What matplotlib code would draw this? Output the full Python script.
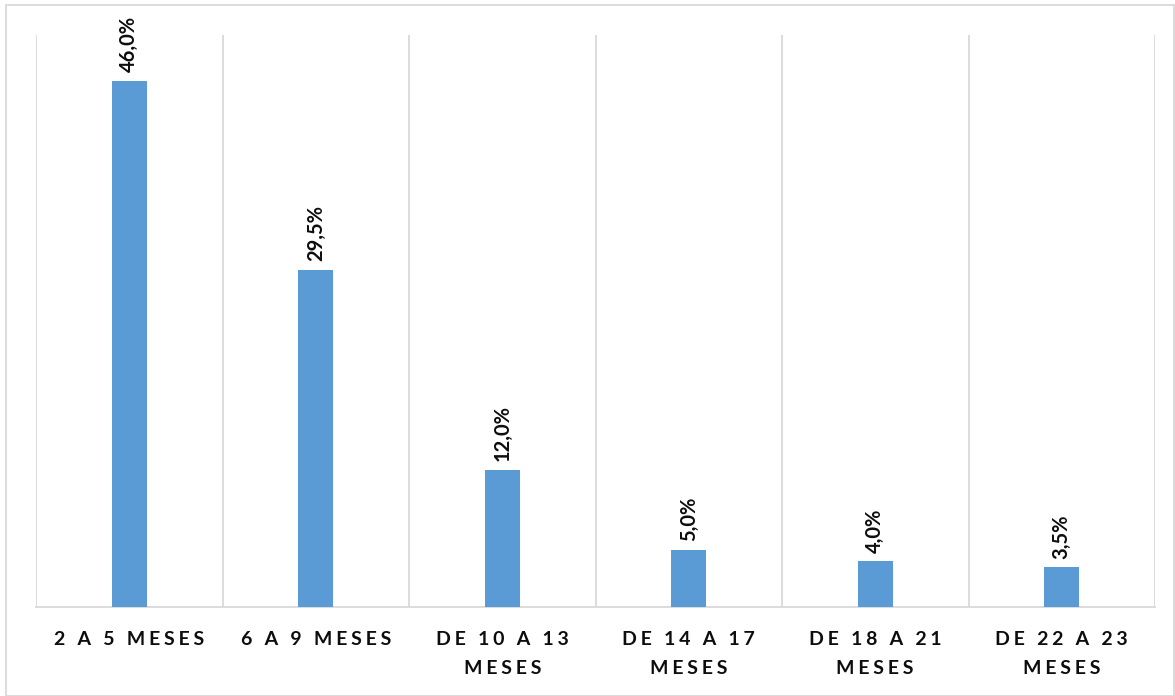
import matplotlib.pyplot as plt
from matplotlib.patches import Rectangle

categorias = ['2 A 5 MESES', '6 A 9 MESES', 'DE 10 A 13\nMESES',
              'DE 14 A 17\nMESES', 'DE 18 A 21\nMESES', 'DE 22 A 23\nMESES']
valores = [46.0, 29.5, 12.0, 5.0, 4.0, 3.5]
etiquetas = ['46,0%', '29,5%', '12,0%', '5,0%', '4,0%', '3,5%']

plt.rcParams['font.family'] = ['Lato', 'DejaVu Sans']


def espaciar(texto):
    # espaciado entre letras, como en el original
    return '\n'.join('\u2009\u200a'.join(linea) for linea in texto.split('\n'))


fig = plt.figure(figsize=(11.75, 6.96), dpi=100)
ax = fig.add_axes([36 / 1175, 1 - 607 / 696, (1155 - 36) / 1175, (607 - 35) / 696])

x = range(len(valores))
ax.bar(x, valores, width=0.19, color='#5b9bd5', zorder=3)

for i, (v, t) in enumerate(zip(valores, etiquetas)):
    ax.annotate(t, (i, v), xytext=(0, 6), textcoords='offset points',
                rotation=90, ha='center', va='bottom', fontsize=14.5,
                fontweight='bold', color='#0d0d0d')

ax.set_xlim(-0.5, len(valores) - 0.5)
ax.set_ylim(0, 50)
ax.set_yticks([])
ax.set_xticks(list(x))
ax.set_xticklabels([espaciar(c) for c in categorias], fontsize=14,
                   fontweight='bold', color='#0d0d0d', linespacing=1.9)
ax.tick_params(axis='x', length=0, pad=17)

for b in [i - 0.5 for i in range(len(valores) + 1)]:
    ax.axvline(b, color='#d9d9d9', lw=1.3, zorder=1)

for s in ['top', 'right', 'left']:
    ax.spines[s].set_visible(False)
ax.spines['bottom'].set_color('#d9d9d9')
ax.spines['bottom'].set_linewidth(1.3)

fig.patches.append(Rectangle((6 / 1175, 0), 1 - 7 / 1175, 1 - 5 / 696,
                             transform=fig.transFigure, fill=False,
                             edgecolor='#d9d9d9', lw=1.3))

plt.savefig('out.png', dpi=100)
